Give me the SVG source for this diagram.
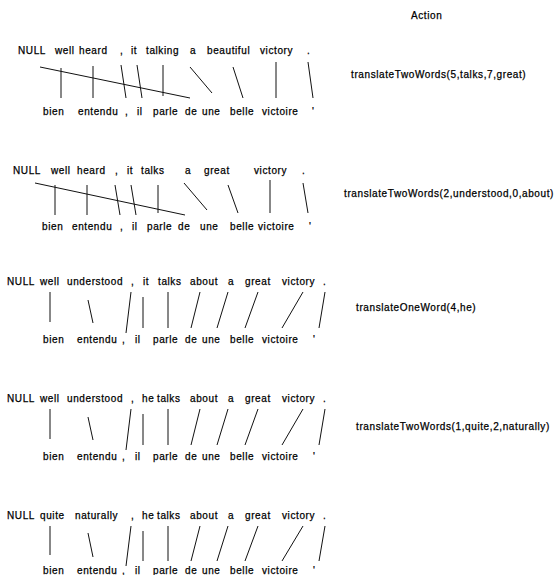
<svg xmlns="http://www.w3.org/2000/svg" width="557" height="575" viewBox="0 0 557 575">
  <style>
    text { font-family: "Liberation Sans", Arial, Helvetica, sans-serif; font-size: 10px; letter-spacing: 0.6px; fill: #000; stroke: #000; stroke-width: 0.25px; }
    .links line { stroke: #111; stroke-width: 1; fill: none; }
  </style>
  <rect width="557" height="575" fill="#fff"/>

  <!-- column header -->
  <g id="header"><text x="411" y="19">Action</text></g>

  <!-- ===== step 1 ===== -->
  <g id="en1">
    <text x="18" y="54">NULL</text><text x="55" y="54">well</text><text x="79" y="54">heard</text>
    <text x="120" y="54">,</text><text x="131" y="54">it</text><text x="146" y="54">talking</text>
    <text x="190" y="54">a</text><text x="207" y="54">beautiful</text><text x="260" y="54">victory</text>
    <text x="307" y="54">.</text>
  </g>
  <g id="fr1">
    <text x="43" y="115">bien</text><text x="78" y="115">entendu</text><text x="125" y="115">,</text>
    <text x="137" y="115">il</text><text x="153" y="115">parle</text><text x="185" y="115">de</text>
    <text x="202" y="115">une</text><text x="230" y="115">belle</text><text x="262" y="115">victoire</text>
    <text x="312" y="115">'</text>
  </g>
  <g id="act1"><text x="351" y="78">translateTwoWords(5,talks,7,great)</text></g>

  <!-- ===== step 2 ===== -->
  <g id="en2">
    <text x="13" y="174">NULL</text><text x="51" y="174">well</text><text x="77" y="174">heard</text>
    <text x="115" y="174">,</text><text x="127" y="174">it</text><text x="141" y="174">talks</text>
    <text x="185" y="174">a</text><text x="204" y="174">great</text><text x="254" y="174">victory</text>
    <text x="302" y="174">.</text>
  </g>
  <g id="fr2">
    <text x="42" y="230">bien</text><text x="72" y="230">entendu</text><text x="120" y="230">,</text>
    <text x="132" y="230">il</text><text x="147" y="230">parle</text><text x="178" y="230">de</text>
    <text x="200" y="230">une</text><text x="230" y="230">belle</text><text x="258" y="230">victoire</text>
    <text x="309" y="230">'</text>
  </g>
  <g id="act2"><text x="344" y="197">translateTwoWords(2,understood,0,about)</text></g>

  <!-- ===== step 3 ===== -->
  <g id="en3">
    <text x="7" y="285">NULL</text><text x="40" y="285">well</text><text x="67" y="285">understood</text>
    <text x="131" y="285">,</text><text x="143" y="285">it</text><text x="158" y="285">talks</text>
    <text x="190" y="285">about</text><text x="228" y="285">a</text><text x="245" y="285">great</text>
    <text x="282" y="285">victory</text><text x="323" y="285">.</text>
  </g>
  <g id="fr3">
    <text x="43" y="343">bien</text><text x="77" y="343">entendu</text><text x="122" y="343">,</text>
    <text x="135" y="343">il</text><text x="153" y="343">parle</text><text x="185" y="343">de</text>
    <text x="202" y="343">une</text><text x="230" y="343">belle</text><text x="262" y="343">victoire</text>
    <text x="313" y="343">'</text>
  </g>
  <g id="act3"><text x="356" y="311">translateOneWord(4,he)</text></g>

  <!-- ===== step 4 ===== -->
  <g id="en4">
    <text x="7" y="402">NULL</text><text x="40" y="402">well</text><text x="67" y="402">understood</text>
    <text x="131" y="402">,</text><text x="142" y="402">he</text><text x="157" y="402">talks</text>
    <text x="190" y="402">about</text><text x="228" y="402">a</text><text x="245" y="402">great</text>
    <text x="282" y="402">victory</text><text x="323" y="402">.</text>
  </g>
  <g id="fr4">
    <text x="43" y="460">bien</text><text x="77" y="460">entendu</text><text x="122" y="460">,</text>
    <text x="135" y="460">il</text><text x="153" y="460">parle</text><text x="185" y="460">de</text>
    <text x="202" y="460">une</text><text x="230" y="460">belle</text><text x="262" y="460">victoire</text>
    <text x="313" y="460">'</text>
  </g>
  <g id="act4"><text x="356" y="430">translateTwoWords(1,quite,2,naturally)</text></g>

  <!-- ===== step 5 ===== -->
  <g id="en5">
    <text x="7" y="519">NULL</text><text x="40" y="519">quite</text><text x="75" y="519">naturally</text>
    <text x="131" y="519">,</text><text x="142" y="519">he</text><text x="157" y="519">talks</text>
    <text x="190" y="519">about</text><text x="228" y="519">a</text><text x="245" y="519">great</text>
    <text x="282" y="519">victory</text><text x="323" y="519">.</text>
  </g>
  <g id="fr5">
    <text x="43" y="574">bien</text><text x="77" y="574">entendu</text><text x="122" y="574">,</text>
    <text x="135" y="574">il</text><text x="153" y="574">parle</text><text x="185" y="574">de</text>
    <text x="202" y="574">une</text><text x="230" y="574">belle</text><text x="262" y="574">victoire</text>
    <text x="313" y="574">'</text>
  </g>

  <!-- word alignment links -->
  <g id="links" class="links">
    <!-- step 1 -->
    <line x1="40" y1="67" x2="190" y2="98"/>
    <line x1="61" y1="68" x2="61" y2="98"/>
    <line x1="93" y1="66" x2="93" y2="98"/>
    <line x1="121" y1="65" x2="126" y2="98"/>
    <line x1="137" y1="65" x2="142" y2="98"/>
    <line x1="163" y1="65" x2="163" y2="96"/>
    <line x1="190" y1="67" x2="212" y2="93"/>
    <line x1="233" y1="67" x2="243" y2="98"/>
    <line x1="276" y1="62" x2="276" y2="98"/>
    <line x1="308" y1="62" x2="313" y2="98"/>
    <!-- step 2 -->
    <line x1="35" y1="183" x2="185" y2="215"/>
    <line x1="55" y1="185" x2="55" y2="215"/>
    <line x1="87" y1="185" x2="87" y2="215"/>
    <line x1="115" y1="185" x2="120" y2="215"/>
    <line x1="131" y1="185" x2="136" y2="215"/>
    <line x1="158" y1="185" x2="158" y2="213"/>
    <line x1="184" y1="183" x2="207" y2="210"/>
    <line x1="228" y1="185" x2="238" y2="213"/>
    <line x1="270" y1="180" x2="270" y2="213"/>
    <line x1="303" y1="183" x2="308" y2="213"/>
    <!-- step 3 -->
    <line x1="50" y1="292" x2="50" y2="322"/>
    <line x1="88" y1="300" x2="93" y2="323"/>
    <line x1="131" y1="292" x2="126" y2="333"/>
    <line x1="143" y1="297" x2="143" y2="328"/>
    <line x1="168" y1="292" x2="168" y2="328"/>
    <line x1="200" y1="292" x2="191" y2="328"/>
    <line x1="228" y1="292" x2="217" y2="328"/>
    <line x1="258" y1="292" x2="245" y2="328"/>
    <line x1="303" y1="292" x2="282" y2="328"/>
    <line x1="325" y1="292" x2="319" y2="328"/>
    <!-- step 4 -->
    <line x1="50" y1="409" x2="50" y2="439"/>
    <line x1="88" y1="417" x2="93" y2="440"/>
    <line x1="131" y1="409" x2="126" y2="450"/>
    <line x1="143" y1="414" x2="143" y2="445"/>
    <line x1="168" y1="409" x2="168" y2="445"/>
    <line x1="200" y1="409" x2="191" y2="445"/>
    <line x1="228" y1="409" x2="217" y2="445"/>
    <line x1="258" y1="409" x2="245" y2="445"/>
    <line x1="303" y1="409" x2="282" y2="445"/>
    <line x1="325" y1="409" x2="319" y2="445"/>
    <!-- step 5 -->
    <line x1="50" y1="526" x2="50" y2="555"/>
    <line x1="88" y1="533" x2="93" y2="557"/>
    <line x1="131" y1="526" x2="126" y2="566"/>
    <line x1="143" y1="531" x2="143" y2="561"/>
    <line x1="168" y1="526" x2="168" y2="561"/>
    <line x1="200" y1="526" x2="191" y2="561"/>
    <line x1="228" y1="526" x2="217" y2="561"/>
    <line x1="258" y1="526" x2="245" y2="561"/>
    <line x1="303" y1="526" x2="282" y2="561"/>
    <line x1="325" y1="526" x2="319" y2="561"/>
  </g>
</svg>
